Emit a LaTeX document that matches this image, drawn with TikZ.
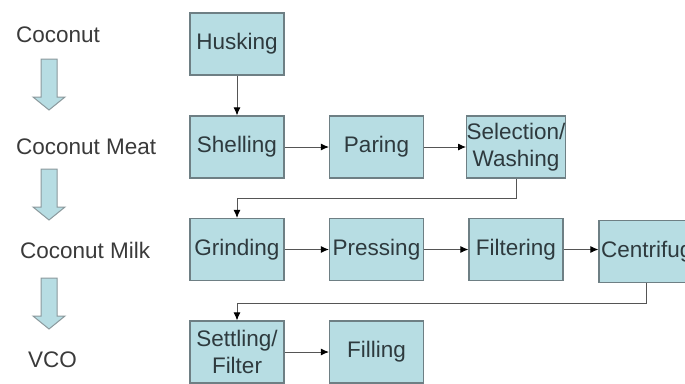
\documentclass[tikz,border=0pt]{standalone}
\usepackage{fontspec}
\setmainfont{Liberation Sans}
\usetikzlibrary{arrows.meta}
\definecolor{boxfill}{HTML}{B7DDE3}
\definecolor{boxline}{HTML}{6E7F84}
\definecolor{txt}{HTML}{2E3A3E}
\definecolor{lbl}{HTML}{3A3A3A}
\definecolor{conncol}{HTML}{555555}
\tikzset{
  box/.style={draw=boxline, line width=1.2pt, fill=boxfill, minimum width=94pt, minimum height=62pt,
    inner sep=0pt, align=center, text=txt, font=\fontsize{22.5}{27}\selectfont},
  conn/.style={draw=conncol, line width=0.9pt, -{Latex[length=8pt,width=7pt,black]}},
  lab/.style={anchor=west, inner sep=0pt, text=lbl, font=\fontsize{22.5}{27}\selectfont},
  blockarrow/.style={draw=boxline!80, line width=1pt, fill=boxfill}
}
\begin{document}
\begin{tikzpicture}[x=1pt,y=-1pt]
\useasboundingbox (0,0) rectangle (685,383);
\fill[white] (0,0) rectangle (685,383);
% left labels
\node[lab] (l1) at (16,35) {Coconut};
\node[lab] (l2) at (16,147) {Coconut Meat};
\node[lab] (l3) at (20,250) {Coconut Milk};
\node[lab] (l4) at (28,360) {VCO};
% block arrows
\foreach \t in {59,169,278}{
  \draw[blockarrow] (41,\t) -- (57,\t) -- (57,\t+38) -- (65,\t+38) -- (49,\t+51) -- (33,\t+38) -- (41,\t+38) -- cycle;
}
% boxes
\node[box] (husk) at (237,44) {Husking};
\node[box] (shell) at (237,147) {Shelling};
\node[box] (par) at (376.5,147) {Paring};
\node[box] (sel) at (516,147) {Selection/\\Washing};
\node[box] (grind) at (237,249.5) {Grinding};
\node[box] (press) at (376.5,249.5) {Pressing};
\node[box] (filt) at (516,249.5) {Filtering};
\node[box, text width=94pt, align=left] (cent) at (646,251.5) {\hspace*{2pt}\mbox{Centrifuge}};
\node[box] (sett) at (237,352) {Settling/\\Filter};
\node[box] (fill) at (376.5,352) {Filling};
% connectors
\draw[conn] (husk) -- (shell);
\draw[conn] (shell) -- (par);
\draw[conn] (par) -- (sel);
\draw[conn] (sel.south) -- ++(0,20) -| (grind.north);
\draw[conn] (grind) -- (press);
\draw[conn] (press) -- (filt);
\draw[conn] (filt) -- (filt -| cent.west);
\draw[conn] (cent.south) -- ++(0,20) -| (sett.north);
\draw[conn] (sett) -- (fill);
\end{tikzpicture}
\end{document}
